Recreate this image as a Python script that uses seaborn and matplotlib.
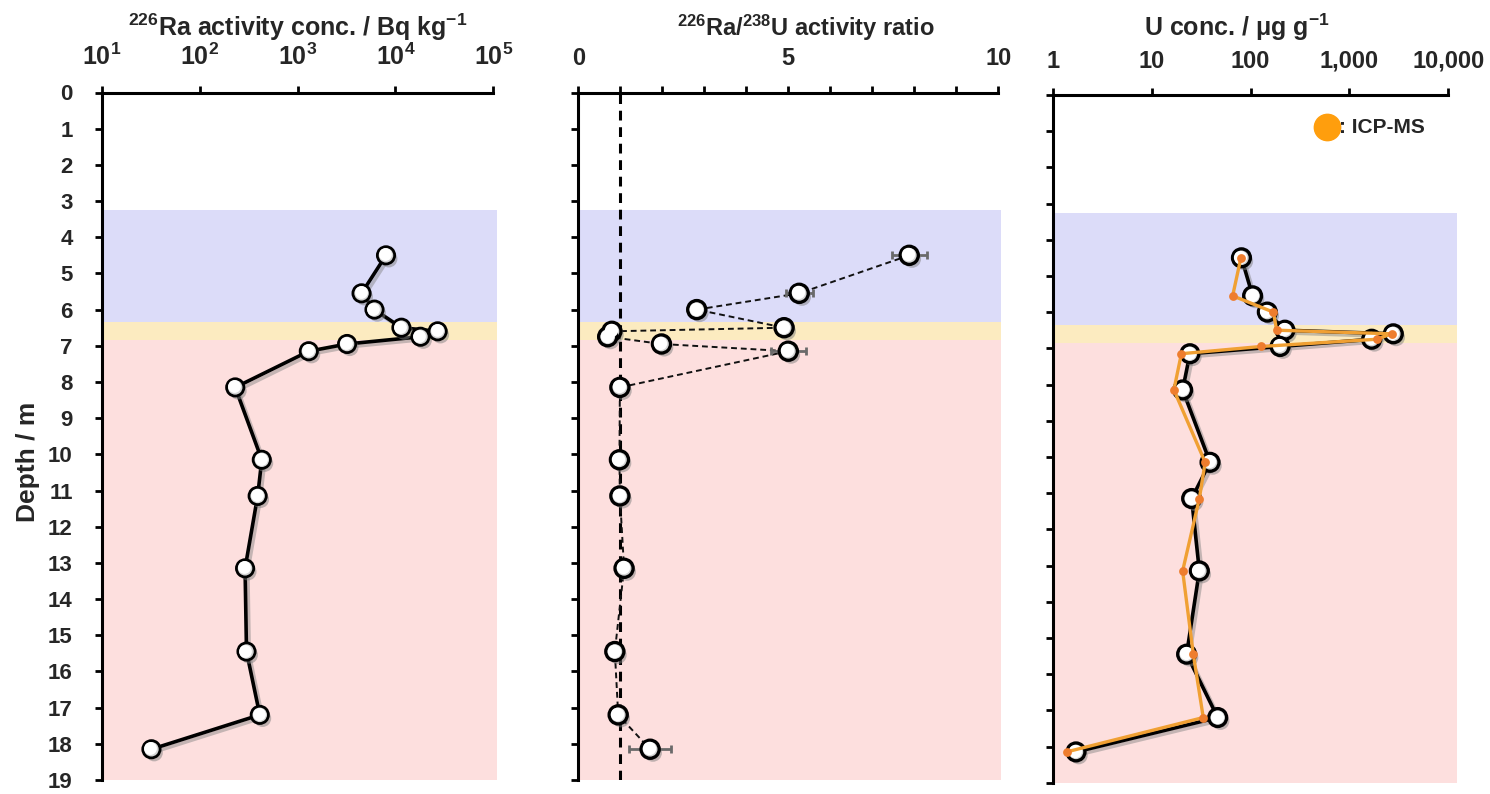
import matplotlib
matplotlib.use("Agg")
import matplotlib.pyplot as plt
import matplotlib.patheffects as pe
from matplotlib.transforms import offset_copy
from matplotlib.ticker import FixedLocator, NullLocator, LogFormatterMathtext
import seaborn as sns

sns.set_theme(style="white")
plt.rcParams["font.family"] = ["Liberation Sans", "DejaVu Sans"]
plt.rcParams["font.weight"] = "bold"
plt.rcParams["mathtext.fontset"] = "custom"
plt.rcParams["mathtext.rm"] = "Liberation Sans:bold"
plt.rcParams["mathtext.it"] = "Liberation Sans:bold"
plt.rcParams["mathtext.bf"] = "Liberation Sans:bold"
plt.rcParams["mathtext.default"] = "rm"

# ---- data ---------------------------------------------------------------
depth = [4.5, 5.55, 6.0, 6.5, 6.6, 6.75, 6.95, 7.15, 8.15,
         10.15, 11.15, 13.15, 15.45, 17.2, 18.15]
ra226 = [8000, 4500, 6100, 11500, 27000, 18000, 3200, 1300, 230,
         430, 390, 290, 300, 410, 32]
ratio = [7.88, 5.26, 2.82, 4.90, 0.80, 0.70, 1.98, 5.00, 0.99,
         0.98, 0.99, 1.09, 0.87, 0.95, 1.71]
ratio_err = [0.42, 0.32, 0.08, 0.08, 0.08, 0.08, 0.08, 0.42, 0.10,
             0.10, 0.10, 0.08, 0.08, 0.10, 0.50]
u_conc = [81, 105, 148, 223, 2780, 1680, 199, 24.4, 20.6,
          39, 25.4, 30.4, 22.6, 46.6, 1.72]
u_icpms = [80, 66, 170, 184, 2680, 1890, 127, 20.0, 16.8,
           34.8, 30.4, 20.6, 26.4, 33.3, 1.38]

# depth intervals of the three units (top, bottom)
zone_blue = (3.25, 6.35)
zone_yellow = (6.35, 6.85)
zone_pink = (6.85, 19.0)
zone_colors = ["#dcdcf9", "#fcebc0", "#fddfde"]

depth_ticks = list(range(0, 20))
ra_ticks = [1e1, 1e2, 1e3, 1e4, 1e5]
ratio_major = [0, 5, 10]
ratio_minor = list(range(0, 11))
u_ticks = [1, 10, 100, 1000, 10000]
u_labels = ["1", "10", "100", "1,000", "10,000"]

# ---- figure ------------------------------------------------------------
W, H = 1490, 794
fig = plt.figure(figsize=(W / 100, H / 100), dpi=100)


def px_axes(left, top, right, bottom):
    return fig.add_axes([left / W, 1 - bottom / H, (right - left) / W, (bottom - top) / H])


ax1 = px_axes(102, 92.5, 493.3, 780)
ax2 = px_axes(578.3, 92.5, 998.3, 780)
ax3 = px_axes(1052.7, 94.9, 1448.3, 782.7)

line_fx = [pe.SimpleLineShadow(offset=(2, -2), shadow_color="gray", alpha=0.45), pe.Normal()]
dot_fx = [pe.SimplePatchShadow(offset=(2, -2.5), shadow_rgbFace="gray", alpha=0.5), pe.Normal()]


def style_axis(ax, overhang, xlabelsize):
    ax.set_facecolor("white")
    for (lo, hi), c in zip([zone_blue, zone_yellow, zone_pink], zone_colors):
        ax.axhspan(lo, hi, xmin=0, xmax=1 + overhang, color=c, lw=0, zorder=0, clip_on=False)
    ax.set_ylim(19, 0)
    ax.yaxis.set_major_locator(FixedLocator(depth_ticks))
    for side in ["right", "bottom"]:
        ax.spines[side].set_visible(False)
    for side in ["top", "left"]:
        ax.spines[side].set_linewidth(2.2)
        ax.spines[side].set_color("black")
        ax.spines[side].set_zorder(6)
    ax.xaxis.set_ticks_position("top")
    ax.tick_params(axis="x", which="both", top=True, bottom=False, labeltop=True,
                   labelbottom=False, direction="out", length=5, width=2,
                   color="black", pad=11, labelsize=xlabelsize)
    ax.tick_params(axis="y", which="both", left=True, right=False, direction="out",
                   length=5, width=2, color="black", pad=16, labelsize=16)
    ax.grid(False)
    ax.set_xlabel("")
    ax.set_ylabel("")


def bead_markers(ax, x, y, size, edge):
    """White beads with a black rim, a drop shadow and a soft highlight."""
    sns.scatterplot(x=x, y=y, ax=ax, s=size, color="#d4d4d4", edgecolor="black",
                    linewidth=edge, zorder=4, path_effects=dot_fx)
    hi = offset_copy(ax.transData, fig=fig, x=-1.0, y=1.0, units="dots")
    ax.scatter(x, y, s=size * 0.55, color="white", linewidths=0, zorder=4.1,
               transform=hi)


# ---- panel 1: 226Ra activity concentration ----------------------------
ax1.set_xscale("log")
sns.lineplot(x=ra226, y=depth, sort=False, estimator=None, ax=ax1, color="black",
             lw=2.6, zorder=3, path_effects=line_fx)
bead_markers(ax1, ra226, depth, 155, 2.0)
style_axis(ax1, 0.01, 18)
ax1.set_xlim(1e1, 1e5)
ax1.xaxis.set_major_locator(FixedLocator(ra_ticks))
ax1.xaxis.set_major_formatter(LogFormatterMathtext())
ax1.xaxis.set_minor_locator(NullLocator())

# ---- panel 2: 226Ra/238U activity ratio --------------------------------
ax2.axvline(1, color="black", lw=2.2, ls=(0, (3.2, 2.2)), zorder=2.5)
ax2.errorbar(ratio, depth, xerr=ratio_err, fmt="none", ecolor="#6a6a6a",
             elinewidth=2.0, capsize=3, capthick=2.0, zorder=3.2)
sns.lineplot(x=ratio, y=depth, sort=False, estimator=None, ax=ax2, color="#111111",
             lw=1.4, linestyle=(0, (3, 2)), zorder=3)
bead_markers(ax2, ratio, depth, 170, 2.4)
style_axis(ax2, 0.006, 17)
ax2.set_xlim(0, 10)
ax2.set_xticks(ratio_major, [str(v) for v in ratio_major])
ax2.xaxis.set_minor_locator(FixedLocator(ratio_minor))
ax2.tick_params(axis="y", labelleft=False)

# ---- panel 3: U concentration -------------------------------------------
ax3.set_xscale("log")
sns.lineplot(x=u_conc, y=depth, sort=False, estimator=None, ax=ax3, color="black",
             lw=2.6, zorder=3, path_effects=line_fx)
bead_markers(ax3, u_conc, depth, 165, 2.4)
sns.lineplot(x=u_icpms, y=depth, sort=False, estimator=None, ax=ax3, color="#f0a033",
             lw=2.4, zorder=5)
sns.scatterplot(x=u_icpms, y=depth, ax=ax3, s=40, color="#ee7d2e", linewidth=0, zorder=6)
style_axis(ax3, 0.021, 17)
ax3.set_xlim(1, 1e4)
ax3.set_xticks(u_ticks, u_labels)
ax3.xaxis.set_minor_locator(NullLocator())
ax3.tick_params(axis="y", labelleft=False)

# legend marker for the ICP-MS series
ax3.scatter([600], [0.9], s=360, color="#ff9e0d", zorder=7, clip_on=False)
ax3.text(790, 0.9, ": ICP-MS", fontsize=15, fontweight="bold", va="center",
         ha="left", zorder=7)

# ---- titles and depth label -------------------------------------------
ty = 1 - 36 / H
fig.text(298 / W, ty, "$^{226}$Ra activity conc. / Bq kg$^{-1}$", ha="center",
         va="baseline", fontsize=18, fontweight="bold")
fig.text(806 / W, ty, "$^{226}$Ra/$^{238}$U activity ratio", ha="center",
         va="baseline", fontsize=17, fontweight="bold")
fig.text(1237 / W, ty, "U conc. / μg g$^{-1}$", ha="center", va="baseline",
         fontsize=18, fontweight="bold")
fig.text(28 / W, 1 - 462 / H, "Depth / m", rotation=90, ha="center", va="center",
         fontsize=19, fontweight="bold")

fig.savefig("out.png", dpi=100, facecolor="white")
